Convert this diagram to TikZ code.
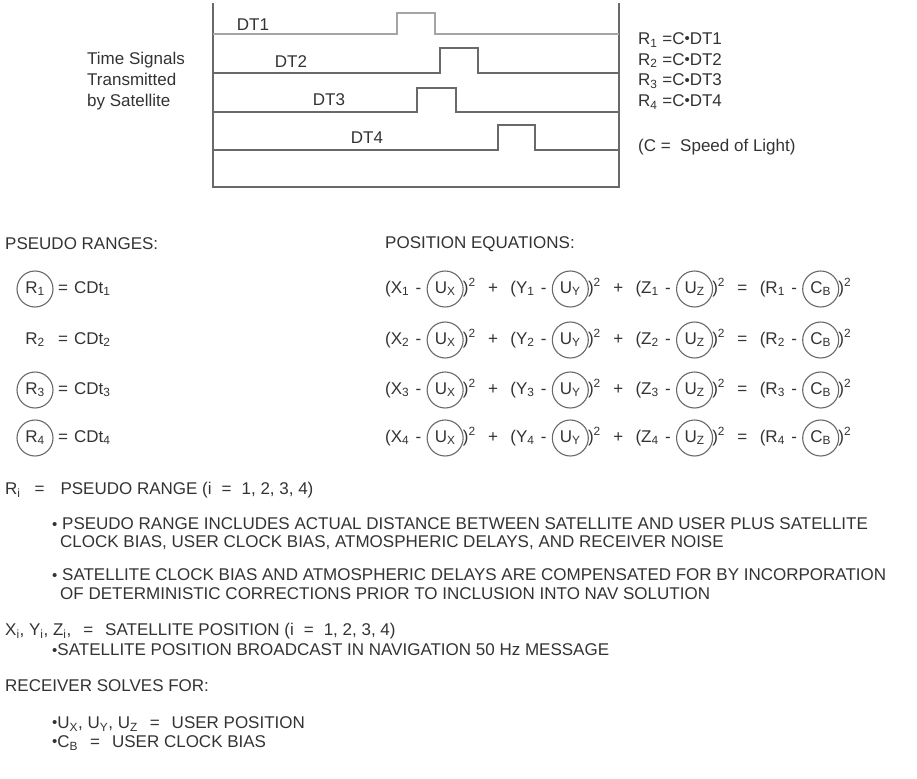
\documentclass[tikz,border=0pt]{standalone}
\usepackage{fontspec}
\setmainfont{Liberation Sans}
\usepackage{graphicx}
\usetikzlibrary{positioning}
\definecolor{scangray}{RGB}{105,105,105}
\definecolor{scanlight}{RGB}{165,165,165}
\newcommand{\sbs}[1]{\textsubscript{#1}}
\newcommand{\sqr}{\textsuperscript{2}}
\newcommand{\tdot}{\raisebox{.05em}{\fontsize{15}{15}\selectfont\textbullet}}

\begin{document}
\begin{tikzpicture}[x=1pt,y=-1pt,
	txt/.style={inner sep=0pt,font=\fontsize{17}{21}\selectfont,text=black!80},
	eqt/.style={txt,text height=12pt,text depth=4pt},
	ring/.style={eqt,circle,draw=scangray,line width=1.1pt,minimum size=36pt},
	sig/.style={draw=scangray,line width=1.6pt}]
	\useasboundingbox (0,0) rectangle (917,778);
	
	\draw[sig] (213,3) -- (213,187) -- (619,187) -- (619,3);
	\foreach \y/\a/\b/\t/\c in {34/397/435/13/scanlight,73/440/478/48/scangray,112/417/456/88/scangray,150/498/535/125/scangray}
		\draw[sig,draw=\c] (213,\y) -- (\a,\y) -- (\a,\t) -- (\b,\t) -- (\b,\y) -- (619,\y);
	\foreach \n/\x/\y in {1/253/25,2/291/62,3/329/100,4/367/138}
		\node[txt] (dt\n) at (\x,\y) {DT\n};
	
	\node[txt,anchor=west,align=left] (tsig) at (87,81) {Time Signals\\Transmitted\\by Satellite};
	\node[txt,anchor=west,align=left,font=\fontsize{17}{20.7}\selectfont] (rdt) at (638,71) {R\sbs{1} =C\tdot DT1\\R\sbs{2} =C\tdot DT2\\R\sbs{3} =C\tdot DT3\\R\sbs{4} =C\tdot DT4};
	\node[txt,anchor=west] (clight) at (638,147) {(C =\ \ Speed of Light)};
	
	\node[txt,anchor=west] (hpr) at (5,244) {PSEUDO RANGES:};
	\node[txt,anchor=west] (heq) at (385,244) {POSITION EQUATIONS:};
	
	\foreach \i/\y in {1/289,3/390,4/438}
		\node[ring] (r\i) at (35,\y) {R\sbs{\i}};
	\node[eqt] (r2) at (35,340) {R\sbs{2}};
	\foreach \i/\y in {1/289,2/340,3/390,4/438}
		\node[eqt,anchor=west] (cdt\i) at (58,\y) {=\hspace{6pt}CDt\sbs{\i}};
	
	\foreach \i/\y in {1/289,2/340,3/390,4/438}{
		\node[eqt,anchor=west] (xo\i) at (385,\y) {(X\sbs{\i}};
		\node[eqt,right=6pt of xo\i] (xm\i) {-};
		\node[ring,right=5pt of xm\i] (ux\i) {U\sbs{X}};
		\node[eqt,right=-1pt of ux\i] (xc\i) {)\sqr};
		\node[eqt,right=12pt of xc\i] (pa\i) {+};
		\node[eqt,right=12pt of pa\i] (yo\i) {(Y\sbs{\i}};
		\node[eqt,right=6pt of yo\i] (ym\i) {-};
		\node[ring,right=5pt of ym\i] (uy\i) {U\sbs{Y}};
		\node[eqt,right=-1pt of uy\i] (yc\i) {)\sqr};
		\node[eqt,right=12pt of yc\i] (pb\i) {+};
		\node[eqt,right=12pt of pb\i] (zo\i) {(Z\sbs{\i}};
		\node[eqt,right=6pt of zo\i] (zm\i) {-};
		\node[ring,right=5pt of zm\i] (uz\i) {U\sbs{Z}};
		\node[eqt,right=-1pt of uz\i] (zc\i) {)\sqr};
		\node[eqt,right=12pt of zc\i] (eq\i) {=};
		\node[eqt,right=12pt of eq\i] (ro\i) {(R\sbs{\i}};
		\node[eqt,right=6pt of ro\i] (rm\i) {-};
		\node[ring,right=5pt of rm\i] (cb\i) {C\sbs{B}};
		\node[eqt,right=-1pt of cb\i] (rc\i) {)\sqr};
	}
	
	\node[txt,anchor=west] (ri) at (5,490) {R\sbs{i}\hspace{14pt}=\hspace{16pt}PSEUDO RANGE (i\hspace{10pt}=\hspace{10pt}1, 2, 3, 4)};
	\node[txt,anchor=west] (b1a) at (52,524) {\tdot\ PSEUDO RANGE INCLUDES ACTUAL DISTANCE BETWEEN SATELLITE AND USER PLUS SATELLITE};
	\node[txt,anchor=west] (b1b) at (60,543) {CLOCK BIAS, USER CLOCK BIAS, ATMOSPHERIC DELAYS, AND RECEIVER NOISE};
	\node[txt,anchor=west] (b2a) at (52,575) {\tdot\ SATELLITE CLOCK BIAS AND ATMOSPHERIC DELAYS ARE COMPENSATED FOR BY INCORPORATION};
	\node[txt,anchor=west] (b2b) at (60,594) {OF DETERMINISTIC CORRECTIONS PRIOR TO INCLUSION INTO NAV SOLUTION};
	\node[txt,anchor=west] (xyz) at (5,631) {X\sbs{i}, Y\sbs{i}, Z\sbs{i},\hspace{12pt}=\hspace{12pt}SATELLITE POSITION (i\hspace{10pt}=\hspace{10pt}1, 2, 3, 4)};
	\node[txt,anchor=west] (b3) at (52,650) {\tdot SATELLITE POSITION BROADCAST IN NAVIGATION 50 Hz MESSAGE};
	\node[txt,anchor=west] (rsv) at (5,686) {RECEIVER SOLVES FOR:};
	\node[txt,anchor=west] (b4) at (52,724) {\tdot U\sbs{X}, U\sbs{Y}, U\sbs{Z}\hspace{12pt}=\hspace{12pt}USER POSITION};
	\node[txt,anchor=west] (b5) at (52,743) {\tdot C\sbs{B}\hspace{12pt}=\hspace{12pt}USER CLOCK BIAS};
\end{tikzpicture}
\end{document}
